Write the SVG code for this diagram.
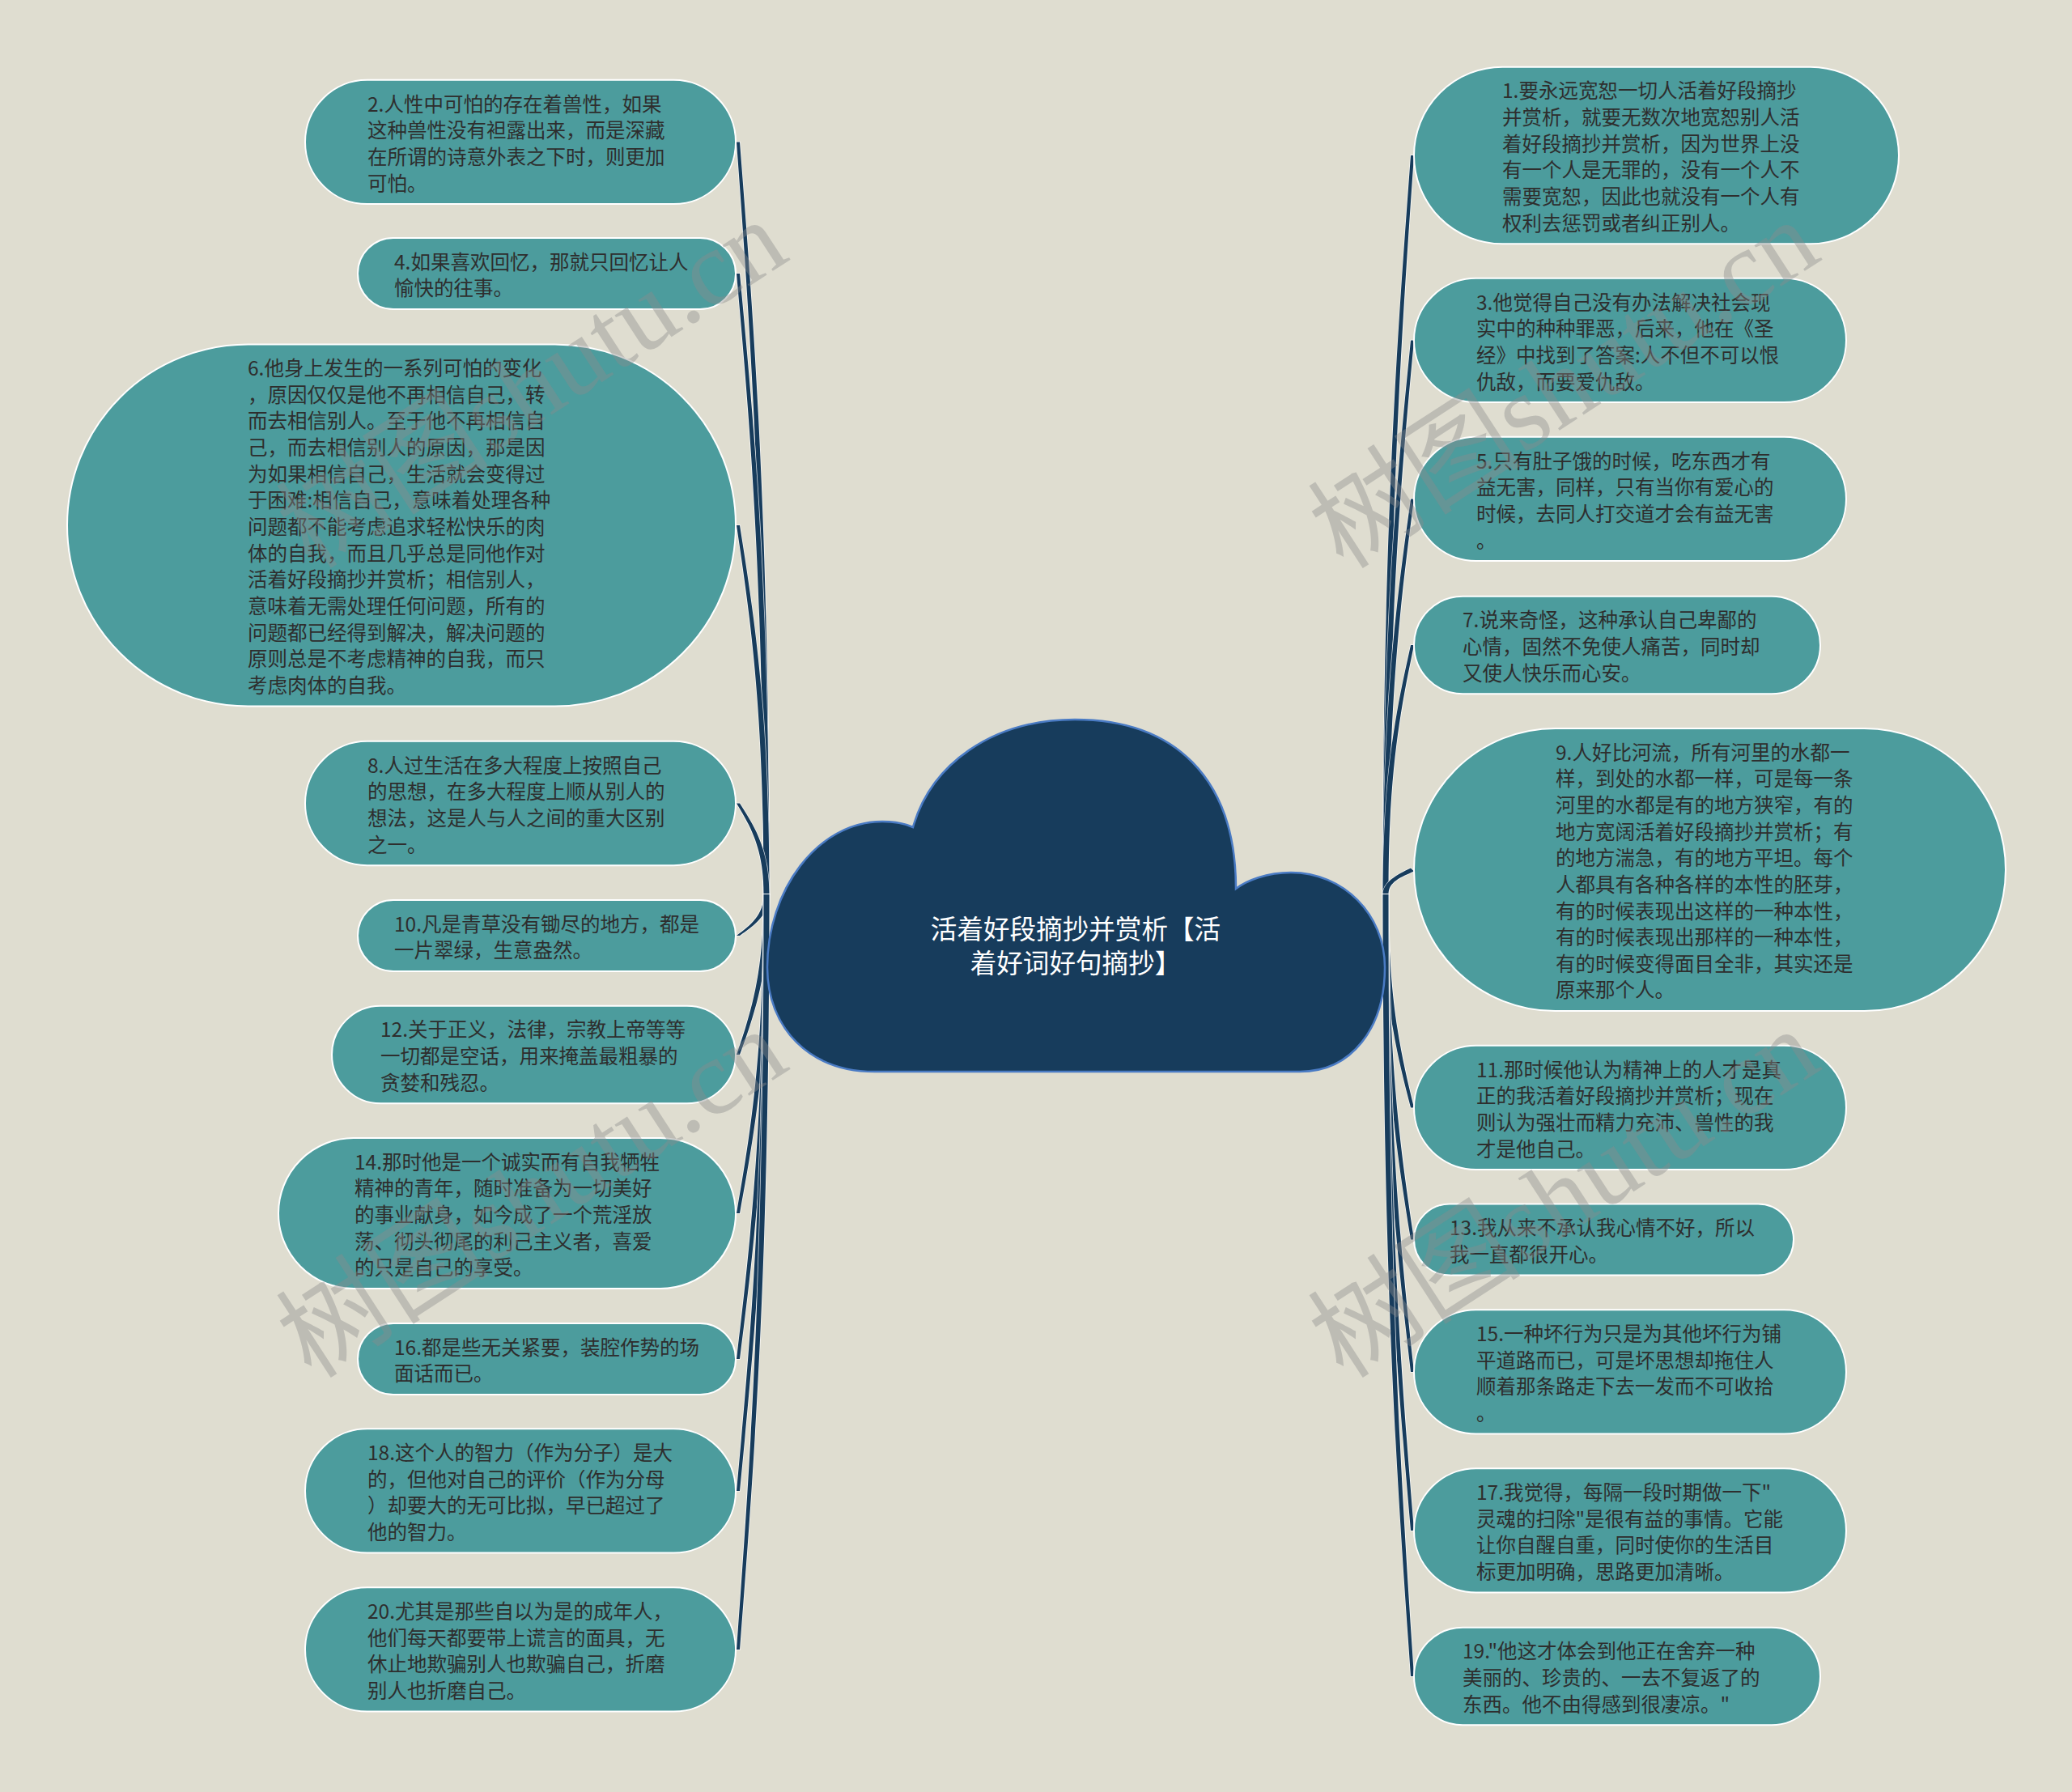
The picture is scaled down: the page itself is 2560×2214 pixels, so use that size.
<svg xmlns="http://www.w3.org/2000/svg" width="2560" height="2214" viewBox="0 0 2560 2214">
<style>
.bg{fill:#DFDDD0}
.node rect{fill:#4C9C9D;stroke:#ffffff;stroke-width:2}
.node text{font-family:"Noto Sans CJK SC","Noto Sans",sans-serif;font-size:24.5px;fill:#2E2E2E;dominant-baseline:central}
.edge{fill:#173C5C;stroke:#ffffff;stroke-width:1.5;stroke-opacity:.8;paint-order:stroke}
.cloud{fill:#173C5C;stroke:#4A7BC4;stroke-width:2.5}
.title{font-family:"Noto Sans CJK SC","Noto Sans",sans-serif;font-size:32.6px;fill:#ffffff;text-anchor:middle;dominant-baseline:central}
.wm{font-family:"Liberation Serif","Noto Sans CJK SC",serif;font-size:132px;fill:#8c8c8c;opacity:.4}
</style>
<rect class="bg" x="0" y="0" width="2560" height="2214"/>
<g id="connectors">
<path class="edge" d="M910 175.5 C927 407.9 943.8 640.25 943.5 1105 L950.5 1105 C950.2 640.25 932 407.9 914 175.5 Z"/>
<path class="edge" d="M910 338 C927 529.75 943.8 721.5 943.5 1105 L950.5 1105 C950.2 721.5 932 529.75 914 338 Z"/>
<path class="edge" d="M910 649 C927 763 943.8 877 943.5 1105 L950.5 1105 C950.2 877 932 763 914 649 Z"/>
<path class="edge" d="M910 992.5 C927 1020.6 943.8 1048.75 943.5 1105 L950.5 1105 C950.2 1048.75 932 1020.6 914 992.5 Z"/>
<path class="edge" d="M910 1156 C927 1143.25 943.8 1130.5 943.5 1105 L950.5 1105 C950.2 1130.5 932 1143.25 914 1156 Z"/>
<path class="edge" d="M910 1303 C927 1253.5 943.8 1204 943.5 1105 L950.5 1105 C950.2 1204 932 1253.5 914 1303 Z"/>
<path class="edge" d="M910 1499 C927 1400.5 943.8 1302 943.5 1105 L950.5 1105 C950.2 1302 932 1400.5 914 1499 Z"/>
<path class="edge" d="M910 1679 C927 1535.5 943.8 1392 943.5 1105 L950.5 1105 C950.2 1392 932 1535.5 914 1679 Z"/>
<path class="edge" d="M910 1842 C927 1657.75 943.8 1473.5 943.5 1105 L950.5 1105 C950.2 1473.5 932 1657.75 914 1842 Z"/>
<path class="edge" d="M910 2038 C927 1804.75 943.8 1571.5 943.5 1105 L950.5 1105 C950.2 1571.5 932 1804.75 914 2038 Z"/>
<path class="edge" d="M1743 192 C1726 420.25 1708.8 648.5 1708.5 1105 L1715.5 1105 C1715.2 648.5 1731 420.25 1747 192 Z"/>
<path class="edge" d="M1743 420.5 C1726 591.6 1708.8 762.75 1708.5 1105 L1715.5 1105 C1715.2 762.75 1731 591.6 1747 420.5 Z"/>
<path class="edge" d="M1743 616.5 C1726 738.6 1708.8 860.75 1708.5 1105 L1715.5 1105 C1715.2 860.75 1731 738.6 1747 616.5 Z"/>
<path class="edge" d="M1743 797 C1726 874 1708.8 951 1708.5 1105 L1715.5 1105 C1715.2 951 1731 874 1747 797 Z"/>
<path class="edge" d="M1743 1072.5 C1726 1080.6 1708.8 1089.75 1708.5 1105 L1715.5 1105 C1715.2 1089.75 1731 1083.6 1747 1076.5 Z"/>
<path class="edge" d="M1743 1368.5 C1726 1302.6 1708.8 1236.75 1708.5 1105 L1715.5 1105 C1715.2 1236.75 1731 1302.6 1747 1368.5 Z"/>
<path class="edge" d="M1743 1531.5 C1726 1424.9 1708.8 1318.25 1708.5 1105 L1715.5 1105 C1715.2 1318.25 1731 1424.9 1747 1531.5 Z"/>
<path class="edge" d="M1743 1695 C1726 1547.5 1708.8 1400 1708.5 1105 L1715.5 1105 C1715.2 1400 1731 1547.5 1747 1695 Z"/>
<path class="edge" d="M1743 1891 C1726 1694.5 1708.8 1498 1708.5 1105 L1715.5 1105 C1715.2 1498 1731 1694.5 1747 1891 Z"/>
<path class="edge" d="M1743 2071 C1726 1829.5 1708.8 1588 1708.5 1105 L1715.5 1105 C1715.2 1588 1731 1829.5 1747 2071 Z"/>
</g>
<g id="n2" class="node"><rect x="377" y="98.8" width="532" height="153.3" rx="76.65"/><text><tspan x="454" y="126.5">2.人性中可怕的存在着兽性，如果</tspan><tspan x="454" y="159.2">这种兽性没有袒露出来，而是深藏</tspan><tspan x="454" y="191.8">在所谓的诗意外表之下时，则更加</tspan><tspan x="454" y="224.5">可怕。</tspan></text></g>
<g id="n4" class="node"><rect x="442" y="294" width="467" height="88" rx="44"/><text><tspan x="487" y="321.7">4.如果喜欢回忆，那就只回忆让人</tspan><tspan x="487" y="354.3">愉快的往事。</tspan></text></g>
<g id="n6" class="node"><rect x="83" y="425.5" width="826" height="447" rx="223.5"/><text><tspan x="306" y="453.1">6.他身上发生的一系列可怕的变化</tspan><tspan x="306" y="485.8">，原因仅仅是他不再相信自己，转</tspan><tspan x="306" y="518.4">而去相信别人。至于他不再相信自</tspan><tspan x="306" y="551.1">己，而去相信别人的原因，那是因</tspan><tspan x="306" y="583.7">为如果相信自己，生活就会变得过</tspan><tspan x="306" y="616.4">于困难:相信自己，意味着处理各种</tspan><tspan x="306" y="649">问题都不能考虑追求轻松快乐的肉</tspan><tspan x="306" y="681.6">体的自我，而且几乎总是同他作对</tspan><tspan x="306" y="714.3">活着好段摘抄并赏析；相信别人，</tspan><tspan x="306" y="746.9">意味着无需处理任何问题，所有的</tspan><tspan x="306" y="779.6">问题都已经得到解决，解决问题的</tspan><tspan x="306" y="812.2">原则总是不考虑精神的自我，而只</tspan><tspan x="306" y="844.9">考虑肉体的自我。</tspan></text></g>
<g id="n8" class="node"><rect x="377" y="915.85" width="532" height="153.3" rx="76.65"/><text><tspan x="454" y="943.5">8.人过生活在多大程度上按照自己</tspan><tspan x="454" y="976.2">的思想，在多大程度上顺从别人的</tspan><tspan x="454" y="1008.8">想法，这是人与人之间的重大区别</tspan><tspan x="454" y="1041.5">之一。</tspan></text></g>
<g id="n10" class="node"><rect x="442" y="1112" width="467" height="88" rx="44"/><text><tspan x="487" y="1139.7">10.凡是青草没有锄尽的地方，都是</tspan><tspan x="487" y="1172.3">一片翠绿，生意盎然。</tspan></text></g>
<g id="n12" class="node"><rect x="410" y="1242.7" width="499" height="120.6" rx="60.3"/><text><tspan x="470" y="1270.4">12.关于正义，法律，宗教上帝等等</tspan><tspan x="470" y="1303">一切都是空话，用来掩盖最粗暴的</tspan><tspan x="470" y="1335.7">贪婪和残忍。</tspan></text></g>
<g id="n14" class="node"><rect x="344" y="1406" width="565" height="186" rx="93"/><text><tspan x="438" y="1433.7">14.那时他是一个诚实而有自我牺牲</tspan><tspan x="438" y="1466.4">精神的青年，随时准备为一切美好</tspan><tspan x="438" y="1499">的事业献身，如今成了一个荒淫放</tspan><tspan x="438" y="1531.7">荡、彻头彻尾的利己主义者，喜爱</tspan><tspan x="438" y="1564.3">的只是自己的享受。</tspan></text></g>
<g id="n16" class="node"><rect x="442" y="1635" width="467" height="88" rx="44"/><text><tspan x="487" y="1662.7">16.都是些无关紧要，装腔作势的场</tspan><tspan x="487" y="1695.3">面话而已。</tspan></text></g>
<g id="n18" class="node"><rect x="377" y="1765.3" width="532" height="153.3" rx="76.65"/><text><tspan x="454" y="1793">18.这个人的智力（作为分子）是大</tspan><tspan x="454" y="1825.7">的，但他对自己的评价（作为分母</tspan><tspan x="454" y="1858.3">）却要大的无可比拟，早已超过了</tspan><tspan x="454" y="1891">他的智力。</tspan></text></g>
<g id="n20" class="node"><rect x="377" y="1961.3" width="532" height="153.3" rx="76.65"/><text><tspan x="454" y="1989">20.尤其是那些自以为是的成年人，</tspan><tspan x="454" y="2021.7">他们每天都要带上谎言的面具，无</tspan><tspan x="454" y="2054.3">休止地欺骗别人也欺骗自己，折磨</tspan><tspan x="454" y="2087">别人也折磨自己。</tspan></text></g>
<g id="n1" class="node"><rect x="1747" y="82.7" width="599" height="218.6" rx="109.3"/><text><tspan x="1856" y="110.4">1.要永远宽恕一切人活着好段摘抄</tspan><tspan x="1856" y="143">并赏析，就要无数次地宽恕别人活</tspan><tspan x="1856" y="175.7">着好段摘抄并赏析，因为世界上没</tspan><tspan x="1856" y="208.3">有一个人是无罪的，没有一个人不</tspan><tspan x="1856" y="241">需要宽恕，因此也就没有一个人有</tspan><tspan x="1856" y="273.6">权利去惩罚或者纠正别人。</tspan></text></g>
<g id="n3" class="node"><rect x="1747" y="343.8" width="534" height="153.3" rx="76.65"/><text><tspan x="1824" y="371.5">3.他觉得自己没有办法解决社会现</tspan><tspan x="1824" y="404.2">实中的种种罪恶，后来，他在《圣</tspan><tspan x="1824" y="436.8">经》中找到了答案:人不但不可以恨</tspan><tspan x="1824" y="469.5">仇敌，而要爱仇敌。</tspan></text></g>
<g id="n5" class="node"><rect x="1747" y="539.8" width="534" height="153.3" rx="76.65"/><text><tspan x="1824" y="567.5">5.只有肚子饿的时候，吃东西才有</tspan><tspan x="1824" y="600.2">益无害，同样，只有当你有爱心的</tspan><tspan x="1824" y="632.8">时候，去同人打交道才会有益无害</tspan><tspan x="1824" y="665.5">。</tspan></text></g>
<g id="n7" class="node"><rect x="1747" y="736.7" width="502" height="120.6" rx="60.3"/><text><tspan x="1807" y="764.4">7.说来奇怪，这种承认自己卑鄙的</tspan><tspan x="1807" y="797">心情，固然不免使人痛苦，同时却</tspan><tspan x="1807" y="829.7">又使人快乐而心安。</tspan></text></g>
<g id="n9" class="node"><rect x="1747" y="899.9" width="731" height="349.2" rx="174.6"/><text><tspan x="1922" y="927.6">9.人好比河流，所有河里的水都一</tspan><tspan x="1922" y="960.2">样，到处的水都一样，可是每一条</tspan><tspan x="1922" y="992.9">河里的水都是有的地方狭窄，有的</tspan><tspan x="1922" y="1025.5">地方宽阔活着好段摘抄并赏析；有</tspan><tspan x="1922" y="1058.2">的地方湍急，有的地方平坦。每个</tspan><tspan x="1922" y="1090.8">人都具有各种各样的本性的胚芽，</tspan><tspan x="1922" y="1123.5">有的时候表现出这样的一种本性，</tspan><tspan x="1922" y="1156.1">有的时候表现出那样的一种本性，</tspan><tspan x="1922" y="1188.8">有的时候变得面目全非，其实还是</tspan><tspan x="1922" y="1221.4">原来那个人。</tspan></text></g>
<g id="n11" class="node"><rect x="1747" y="1291.8" width="534" height="153.3" rx="76.65"/><text><tspan x="1824" y="1319.5">11.那时候他认为精神上的人才是真</tspan><tspan x="1824" y="1352.2">正的我活着好段摘抄并赏析；现在</tspan><tspan x="1824" y="1384.8">则认为强壮而精力充沛、兽性的我</tspan><tspan x="1824" y="1417.5">才是他自己。</tspan></text></g>
<g id="n13" class="node"><rect x="1747" y="1487.5" width="469" height="88" rx="44"/><text><tspan x="1791" y="1515.2">13.我从来不承认我心情不好，所以</tspan><tspan x="1791" y="1547.8">我一直都很开心。</tspan></text></g>
<g id="n15" class="node"><rect x="1747" y="1618.3" width="534" height="153.3" rx="76.65"/><text><tspan x="1824" y="1646">15.一种坏行为只是为其他坏行为铺</tspan><tspan x="1824" y="1678.7">平道路而已，可是坏思想却拖住人</tspan><tspan x="1824" y="1711.3">顺着那条路走下去一发而不可收拾</tspan><tspan x="1824" y="1744">。</tspan></text></g>
<g id="n17" class="node"><rect x="1747" y="1814.3" width="534" height="153.3" rx="76.65"/><text><tspan x="1824" y="1842">17.我觉得，每隔一段时期做一下"</tspan><tspan x="1824" y="1874.7">灵魂的扫除"是很有益的事情。它能</tspan><tspan x="1824" y="1907.3">让你自醒自重，同时使你的生活目</tspan><tspan x="1824" y="1940">标更加明确，思路更加清晰。</tspan></text></g>
<g id="n19" class="node"><rect x="1747" y="2010.7" width="502" height="120.6" rx="60.3"/><text><tspan x="1807" y="2038.4">19."他这才体会到他正在舍弃一种</tspan><tspan x="1807" y="2071">美丽的、珍贵的、一去不复返了的</tspan><tspan x="1807" y="2103.7">东西。他不由得感到很凄凉。"</tspan></text></g>
<g id="root">
<path class="cloud" d="M1081 1324 L1606 1324 C1670 1324 1711 1270 1711 1195 C1711 1130 1660 1078 1595 1078 C1565 1078 1540 1088 1527 1098 C1527 960 1450 889 1328 889 C1225 889 1150 945 1128 1022 C1115 1016 1103 1015 1090 1015 C1010 1015 948 1100 948 1195 C948 1270 1000 1324 1081 1324 Z"/>
<text class="title"><tspan x="1329" y="1145">活着好段摘抄并赏析【活</tspan><tspan x="1329" y="1187">着好词好句摘抄】</tspan></text>
</g>
<g id="watermarks">
<text class="wm" transform="translate(385 705) rotate(-33)">树图shutu.cn</text>
<text class="wm" transform="translate(1660 705) rotate(-33)">树图shutu.cn</text>
<text class="wm" transform="translate(385 1705) rotate(-33)">树图shutu.cn</text>
<text class="wm" transform="translate(1660 1705) rotate(-33)">树图shutu.cn</text>
</g>
</svg>
